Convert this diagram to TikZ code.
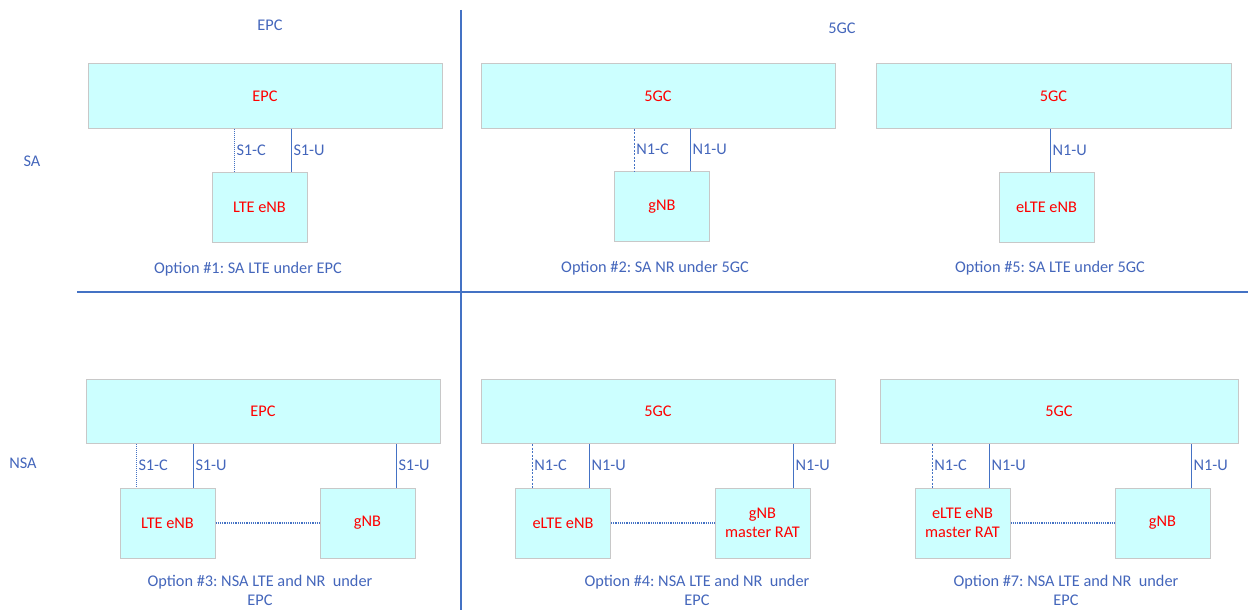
\documentclass[tikz,border=0pt]{standalone}
\usepackage{fontspec}
\setmainfont{Carlito}
\definecolor{boxfill}{HTML}{CCFFFF}
\definecolor{boxline}{HTML}{C8C8C8}
\definecolor{lnblue}{HTML}{4472C4}
\definecolor{txtblue}{HTML}{4466BB}
\definecolor{txtred}{HTML}{FF0000}
\begin{document}
\frenchspacing
\begin{tikzpicture}[x=1pt,y=-1pt,
  box/.style={draw=boxline, fill=boxfill, line width=1pt, inner sep=0pt, text=txtred, font=\fontsize{16.3}{19}\selectfont, align=center},
  core/.style={box, minimum width=354pt, minimum height=64pt},
  ran/.style={box, minimum width=95pt, minimum height=70pt},
  lbl/.style={text=txtblue, font=\fontsize{16.3}{18}\selectfont, inner sep=2pt},
  captext/.style={text=txtblue, font=\fontsize{16.3}{19}\selectfont, align=center, inner sep=0pt},
  uline/.style={draw=lnblue, line width=1pt},
  cline/.style={draw=lnblue, line width=1pt, densely dotted},
  nline/.style={draw=lnblue, line width=0.8pt, dash pattern=on 2pt off 1.5pt},
  xline/.style={draw=lnblue, line width=1.2pt, densely dotted},
  divider/.style={draw=lnblue, line width=1.1pt}
]
\useasboundingbox (0,0) rectangle (1253,610);

% dividers
\coordinate (vtop) at (461,10);
\coordinate (vbot) at (461,610);
\coordinate (hl) at (77,292);
\coordinate (hr) at (1248,292);
\draw[divider] (vtop) -- (vbot);
\draw[divider] (hl) -- (hr);

% headers
\node[lbl] (hepc) at (270,25) {EPC};
\node[lbl] (h5gc) at (842,28) {5GC};
\node[lbl] (hsa) at (32,161) {SA};
\node[lbl] (hnsa) at (23,463) {NSA};

% ---- Option 1
\node[core, minimum width=354pt] (epc1) at (265,96) {EPC};
\node[ran] (enb1) at (259.5,207) {LTE eNB};
\coordinate (x1c) at (234,0);
\coordinate (x1u) at (291,0);
\draw[cline] (epc1.south -| x1c) -- (enb1.north -| x1c) node[midway, right, lbl] {S1-C};
\draw[uline] (epc1.south -| x1u) -- (enb1.north -| x1u) node[midway, right, lbl] {S1-U};
\node[captext] (cap1) at (248,269) {Option \#1: SA LTE under EPC};

% ---- Option 2
\node[core] (core2) at (658,96) {5GC};
\node[ran] (gnb2) at (662,206.5) {gNB};
\coordinate (x2c) at (634,0);
\coordinate (x2u) at (690,0);
\draw[nline] (core2.south -| x2c) -- (gnb2.north -| x2c) node[midway, right, lbl] {N1-C};
\draw[uline] (core2.south -| x2u) -- (gnb2.north -| x2u) node[midway, right, lbl] {N1-U};
\node[captext] (cap2) at (655,268) {Option \#2: SA NR under 5GC};

% ---- Option 5
\node[core, minimum width=355pt] (core5) at (1053.5,96) {5GC};
\node[ran] (enb5) at (1046.5,207) {eLTE eNB};
\coordinate (x5u) at (1050,0);
\draw[uline] (core5.south -| x5u) -- (enb5.north -| x5u) node[midway, right, lbl] {N1-U};
\node[captext] (cap5) at (1050,268) {Option \#5: SA LTE under 5GC};

% ---- Option 3
\node[core] (epc3) at (263,411.5) {EPC};
\node[ran] (enb3) at (167.5,523) {LTE eNB};
\node[ran] (gnb3) at (367.5,523) {gNB};
\coordinate (x3c) at (136,0);
\coordinate (x3u) at (193,0);
\coordinate (x3r) at (396,0);
\draw[cline] (epc3.south -| x3c) -- (enb3.north -| x3c) node[midway, right, lbl] {S1-C};
\draw[uline] (epc3.south -| x3u) -- (enb3.north -| x3u) node[midway, right, lbl] {S1-U};
\draw[uline] (epc3.south -| x3r) -- (gnb3.north -| x3r) node[midway, right, lbl] {S1-U};
\draw[xline] (enb3.east) -- (gnb3.west);
\node[captext] (cap3) at (260,590) {Option \#3: NSA LTE and NR\ \ under\\EPC};

% ---- Option 4
\node[core] (core4) at (658,411.5) {5GC};
\node[ran] (enb4) at (563,523) {eLTE eNB};
\node[ran] (gnb4) at (762.5,523) {gNB\\master RAT};
\coordinate (x4c) at (532,0);
\coordinate (x4u) at (589,0);
\coordinate (x4r) at (793,0);
\draw[nline] (core4.south -| x4c) -- (enb4.north -| x4c) node[midway, right, lbl] {N1-C};
\draw[uline] (core4.south -| x4u) -- (enb4.north -| x4u) node[midway, right, lbl] {N1-U};
\draw[uline] (core4.south -| x4r) -- (gnb4.north -| x4r) node[midway, right, lbl] {N1-U};
\draw[xline] (enb4.east) -- (gnb4.west);
\node[captext] (cap4) at (697,590) {Option \#4: NSA LTE and NR\ \ under\\EPC};

% ---- Option 7
\node[core, minimum width=358pt] (core7) at (1059,411.5) {5GC};
\node[ran] (enb7) at (962.5,523) {eLTE eNB\\master RAT};
\node[ran] (gnb7) at (1162.5,523) {gNB};
\coordinate (x7c) at (932,0);
\coordinate (x7u) at (989,0);
\coordinate (x7r) at (1191,0);
\draw[nline] (core7.south -| x7c) -- (enb7.north -| x7c) node[midway, right, lbl] {N1-C};
\draw[uline] (core7.south -| x7u) -- (enb7.north -| x7u) node[midway, right, lbl] {N1-U};
\draw[uline] (core7.south -| x7r) -- (gnb7.north -| x7r) node[midway, right, lbl] {N1-U};
\draw[xline] (enb7.east) -- (gnb7.west);
\node[captext] (cap7) at (1066,590) {Option \#7: NSA LTE and NR\ \ under\\EPC};
\end{tikzpicture}
\end{document}
